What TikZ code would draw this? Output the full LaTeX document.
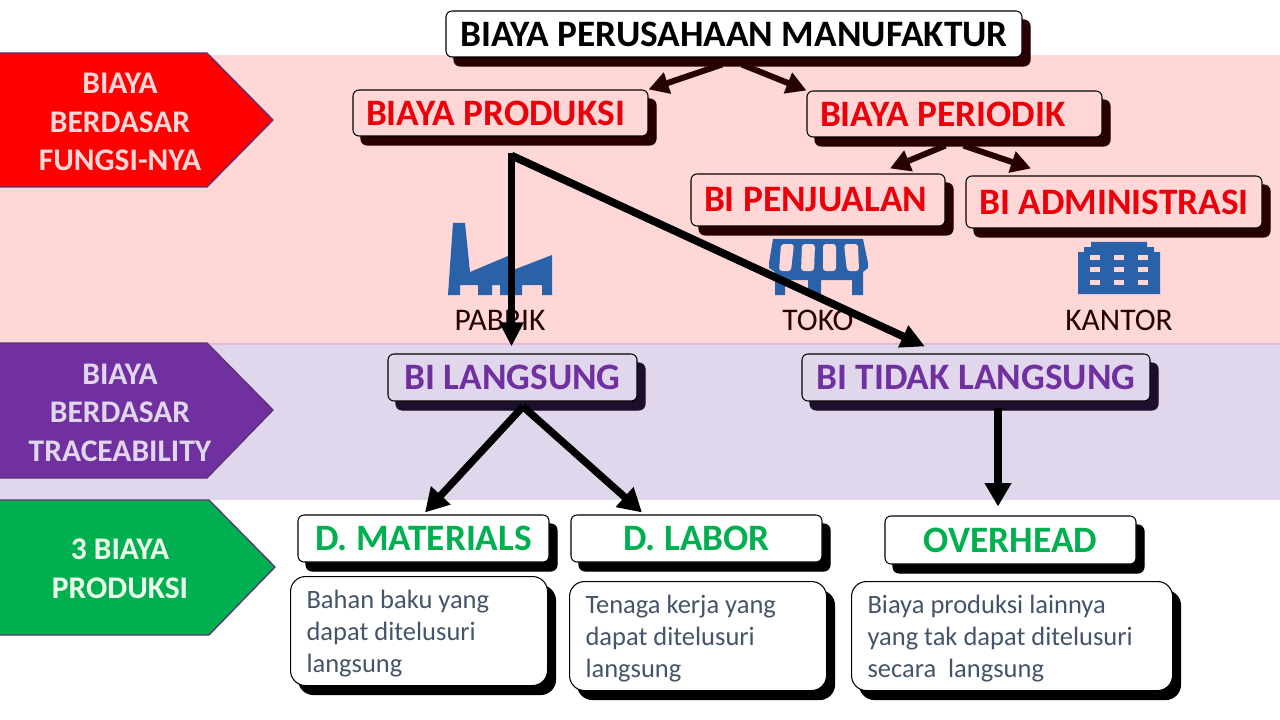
\documentclass[tikz,border=0pt]{standalone}
\usepackage{fontspec}
\setmainfont{Carlito}
\usetikzlibrary{positioning, arrows.meta, shadows, calc}
\definecolor{pinkband}{RGB}{255, 215, 215}
\definecolor{pinkline}{RGB}{232, 185, 212}
\definecolor{purpband}{RGB}{225, 215, 236}
\definecolor{redhead}{RGB}{255, 0, 0}
\definecolor{redtext}{RGB}{235, 0, 10}
\definecolor{purphead}{RGB}{112, 48, 160}
\definecolor{greenhead}{RGB}{0, 176, 80}
\definecolor{tagline}{RGB}{90, 50, 120}
\definecolor{iconblue}{RGB}{41, 98, 168}
\definecolor{slatetext}{RGB}{68, 84, 106}
\definecolor{redshade}{RGB}{40, 0, 0}
\definecolor{purpshade}{RGB}{28, 14, 44}
\newdimen\px
\px=0.75pt
\newcommand{\fpx}[2]{\fontsize{#1\px}{#2\px}\selectfont}

\begin{document}
\begin{tikzpicture}[
  x=0.75pt, y=-0.75pt,
  % --- Styles ---
  tbox/.style 2 args={
    rectangle, rounded corners=6\px, draw=black, fill=#1, line width=0.8pt,
    align=center, inner sep=0pt, font=\fpx{37.3}{40}\bfseries,
    copy shadow={shadow xshift=8\px, shadow yshift=-9\px, fill=#2, draw=#2}},
  leftbox/.style={align=flush left, inner xsep=13\px, text width=#1},
  nbox/.style={
    rectangle, rounded corners=15\px, draw=black, fill=white, line width=0.8pt,
    align=flush left, inner xsep=16\px, inner ysep=0pt, anchor=north west,
    font=\fpx{26.5}{32}, text=slatetext,
    execute at begin node={\rule{0pt}{24\px}},
    copy shadow={shadow xshift=8\px, shadow yshift=-9\px, fill=black, draw=black}},
  tag/.style={align=center, font=\fpx{31.5}{38.5}\bfseries},
  lbl/.style={font=\fpx{31.5}{34}, text=redshade},
  myarr/.style={-{Triangle[length=15pt, width=16pt]}, line width=4.5pt, #1},
  myarr/.default=redshade,
  lowarr/.style={-{Triangle[length=17.5pt, width=19pt]}, line width=5.5pt, black},
  longarr/.style={-{Triangle[length=18pt, width=17pt]}, line width=5.8pt, black},
]
\useasboundingbox (0,0) rectangle (1280,720);
\fill[white] (0,0) rectangle (1280,720);
% === BANDS ===
\fill[pinkband] (0,55) rectangle (1280,343);
\fill[purpband] (0,343) rectangle (1280,500);
\draw[pinkline, line width=2\px] (0,343.5) -- (1280,343.5);

% === TAGS ===
\draw[tagline, fill=redhead, line width=1pt]
  (-2,53) -- (207,53) -- (273,120) -- (207,187) -- (-2,187) -- cycle;
\node[tag, text=pinkband] (fungsi) at (120,122) {BIAYA\\BERDASAR\\FUNGSI-NYA};
\draw[tagline, fill=purphead, line width=1pt]
  (-2,343) -- (207,343) -- (273,410) -- (207,478) -- (-2,478) -- cycle;
\node[tag, text=purpband] (trace) at (120,412.5) {BIAYA\\BERDASAR\\TRACEABILITY};
\draw[tagline, fill=greenhead, line width=1pt]
  (-2,500) -- (209,500) -- (275,567) -- (209,635) -- (-2,635) -- cycle;
\node[tag, text=white!92!green] (tiga) at (120,569) {3 BIAYA\\PRODUKSI};

% === ICONS ===
% Factory
\fill[iconblue] (453,223) -- (465,223) -- (470,272) -- (508,256) -- (508,272)
  -- (552,255) -- (552,295) -- (542,295) -- (542,285) -- (522,285) -- (522,295)
  -- (500,295) -- (500,285) -- (492,285) -- (492,295) -- (478,295) -- (478,285)
  -- (460,285) -- (460,295) -- (448,295) -- cycle;
% Shop
\fill[iconblue] (773,239) -- (863,239) -- (868,263) -- (868,268) -- (863,272) -- (863,295)
  -- (852,295) -- (852,280) -- (821,280) -- (821,295) -- (808,295) -- (808,280)
  -- (785,280) -- (785,295) -- (775,295) -- (775,272) -- (769,268) -- (769,263) -- cycle;
\foreach \sa/\sb/\sc/\sd in {781/794/779/791, 802/815/801/814, 823/836/823/836, 844/858/847/859}
  \fill[pinkband, rounded corners=3\px] (\sa,244) -- (\sb,244) -- (\sd,271) -- (\sc,271) -- cycle;
% Office
\fill[iconblue] (1078,252) -- (1084,252) -- (1084,247) -- (1091,247) -- (1091,242) -- (1147,242)
  -- (1147,247) -- (1154,247) -- (1154,252) -- (1160,252) -- (1160,294) -- (1078,294) -- cycle;
\foreach \wy in {257,269,282}
  \foreach \wx in {1095,1119,1143}
    \fill[pinkband] (\wx-5,\wy-2.5) rectangle (\wx+5,\wy+2.5);

\node[lbl] (pabrik) at (500,320) {PABRIK};
\node[lbl] (toko) at (818,320) {TOKO};
\node[lbl] (kantor) at (1119,320) {KANTOR};

% === NODES ===
\node[tbox={white}{redshade}, minimum width=576\px, minimum height=46\px] (title) at (734,34) {BIAYA PERUSAHAAN MANUFAKTUR};
\node[tbox={pinkband}{redshade}, text=redtext, leftbox=269\px, minimum height=46\px] (prod) at (500.5,113) {BIAYA PRODUKSI};
\node[tbox={pinkband}{redshade}, text=redtext, leftbox=269\px, minimum height=46\px] (period) at (954.5,114) {BIAYA PERIODIK};
\node[tbox={pinkband}{redshade}, text=redtext, leftbox=228\px, minimum height=52\px] (jual) at (818,200) {BI PENJUALAN};
\node[tbox={pinkband}{redshade}, text=redtext, minimum width=296\px, minimum height=52\px] (admin) at (1114,202) {BI ADMINISTRASI};
\node[tbox={purpband}{purpshade}, text=purphead, minimum width=249\px, minimum height=47\px] (lang) at (512.5,377.5) {BI LANGSUNG};
\node[tbox={purpband}{purpshade}, text=purphead, minimum width=348\px, minimum height=47\px] (tidak) at (976,377.5) {BI TIDAK LANGSUNG};
\node[tbox={white}{black}, text=greenhead, minimum width=251\px, minimum height=47\px] (mat) at (423.5,538.5) {D. MATERIALS};
\node[tbox={white}{black}, text=greenhead, minimum width=251\px, minimum height=47\px] (labor) at (696.5,538.5) {D. LABOR};
\node[tbox={white}{black}, text=greenhead, minimum width=251\px, minimum height=48\px] (over) at (1010.5,540) {OVERHEAD};
\node[nbox, text width=225\px, minimum height=109\px] (matnote) at (290,576) {Bahan baku yang\\dapat ditelusuri\\langsung};
\node[nbox, text width=225\px, minimum height=109\px] (labnote) at (569,581) {Tenaga kerja yang\\dapat ditelusuri\\langsung};
\node[nbox, text width=289\px, minimum height=109\px] (ovnote) at (851,581) {Biaya produksi lainnya\\yang tak dapat ditelusuri\\secara\ \ langsung};

% === ARROWS ===
\coordinate (prodout) at ($(prod.south)+(11,19)$);
% Function split
\draw[myarr] ($(title.south)+(-12,7)$) -- (prod.north east);
\draw[myarr] ($(title.south)+(8,7)$) -- (period.north west);
\draw[myarr] ($(period.south)+(-9,8)$) -- ($(jual.north)+(72,-5)$);
\draw[myarr] ($(period.south)+(9,8)$) -- ($(admin.north)+(-83,-7)$);
% Long flow
\draw[longarr] ($(prodout)+(0,-3)$) -- ($(lang.north)+(-1,-7)$);
\draw[longarr] (prodout) -- ($(tidak.north)+(-51,-7)$);
% Cost elements
\draw[lowarr] ($(lang.south)+(10.5,5)$) -- ($(mat.north)+(1.5,-2)$);
\draw[lowarr] ($(lang.south)+(10.5,5)$) -- ($(labor.north)+(-54.5,-2)$);
\draw[lowarr] ($(tidak.south)+(22,6)$) -- ($(over.north)+(-12.5,-9)$);
\end{tikzpicture}
\end{document}
